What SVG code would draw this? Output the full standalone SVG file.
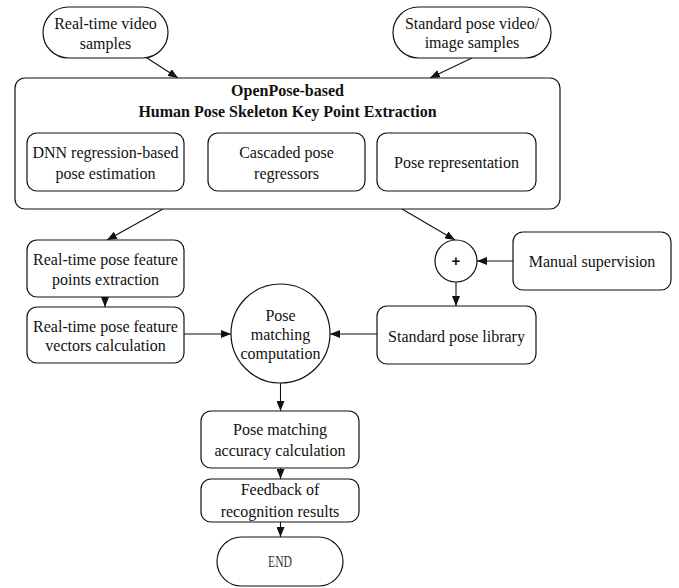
<svg xmlns="http://www.w3.org/2000/svg" width="679" height="588" viewBox="0 0 679 588">
<style>
.box{fill:#fff;stroke:#111;stroke-width:1.2}
.t{font-family:"Liberation Serif","Times New Roman",serif;font-size:16px;fill:#111;text-anchor:middle}
.b{font-weight:bold}
.c{stroke:#111;stroke-width:1.1;fill:none;marker-end:url(#ah)}
</style>
<defs>
<marker id="ah" viewBox="0 0 10 8" refX="10" refY="4" markerWidth="10" markerHeight="8" markerUnits="userSpaceOnUse" orient="auto">
<path d="M0,0 L10,4 L0,8 Z" fill="#111"/>
</marker>
</defs>
<rect width="679" height="588" fill="#fff"/>
<g id="connectors">
<line class="c" x1="147" y1="58" x2="178" y2="78"/>
<line class="c" x1="472" y1="58" x2="430" y2="78"/>
<line class="c" x1="163" y1="209" x2="107" y2="240"/>
<line class="c" x1="402" y1="209" x2="455" y2="240"/>
<line class="c" x1="513" y1="261" x2="477" y2="261"/>
<line class="c" x1="456" y1="282" x2="456" y2="306"/>
<line class="c" x1="105" y1="297" x2="105" y2="307"/>
<line class="c" x1="184" y1="334" x2="231" y2="334"/>
<line class="c" x1="377" y1="334" x2="330" y2="334"/>
<line class="c" x1="280.5" y1="383" x2="280.5" y2="411"/>
<line class="c" x1="280.5" y1="468" x2="280.5" y2="479"/>
<line class="c" x1="280.5" y1="522" x2="280.5" y2="537"/>
</g>
<g id="realtime-video">
<rect class="box" x="43" y="7" width="125" height="51" rx="25.5"/>
<text class="t" x="105.5" y="28.5">Real-time video</text>
<text class="t" x="105.5" y="48.5">samples</text>
</g>
<g id="standard-video">
<rect class="box" x="393" y="7" width="158" height="51" rx="25.5"/>
<text class="t" x="472" y="28.5">Standard pose video/</text>
<text class="t" x="472" y="47.5">image samples</text>
</g>
<g id="openpose">
<rect class="box" x="15" y="78" width="545" height="131" rx="10"/>
<text class="t b" x="287.5" y="96">OpenPose-based</text>
<text class="t b" x="287.5" y="117">Human Pose Skeleton Key Point Extraction</text>
</g>
<g id="dnn">
<rect class="box" x="27" y="133" width="157" height="58" rx="10"/>
<text class="t" x="105.5" y="157.5">DNN regression-based</text>
<text class="t" x="105.5" y="178.5">pose estimation</text>
</g>
<g id="cascaded">
<rect class="box" x="208" y="133" width="157" height="58" rx="10"/>
<text class="t" x="286.5" y="157.5">Cascaded pose</text>
<text class="t" x="286.5" y="178.5">regressors</text>
</g>
<g id="representation">
<rect class="box" x="377" y="133" width="159" height="58" rx="10"/>
<text class="t" x="456.5" y="168">Pose representation</text>
</g>
<g id="feature-points">
<rect class="box" x="27" y="240" width="157" height="57" rx="10"/>
<text class="t" x="105.5" y="264.5">Real-time pose feature</text>
<text class="t" x="105.5" y="284.5">points extraction</text>
</g>
<g id="feature-vectors">
<rect class="box" x="27" y="307" width="157" height="56" rx="10"/>
<text class="t" x="105.5" y="331.5">Real-time pose feature</text>
<text class="t" x="105.5" y="350.5">vectors calculation</text>
</g>
<g id="plus">
<circle class="box" cx="456" cy="261" r="21"/>
<text x="456" y="266" text-anchor="middle" font-family="Liberation Sans,Arial,sans-serif" font-weight="bold" font-size="15" fill="#111">+</text>
</g>
<g id="manual">
<rect class="box" x="513" y="232" width="158" height="58" rx="10"/>
<text class="t" x="592" y="267">Manual supervision</text>
</g>
<g id="library">
<rect class="box" x="377" y="306" width="159" height="58" rx="10"/>
<text class="t" x="456.5" y="341.5">Standard pose library</text>
</g>
<g id="matching">
<circle class="box" cx="280.5" cy="333.5" r="49.5"/>
<text class="t" x="280.5" y="321">Pose</text>
<text class="t" x="280.5" y="340">matching</text>
<text class="t" x="280.5" y="359">computation</text>
</g>
<g id="accuracy">
<rect class="box" x="201" y="411" width="158" height="57" rx="10"/>
<text class="t" x="280" y="434.5">Pose matching</text>
<text class="t" x="280" y="455.5">accuracy calculation</text>
</g>
<g id="feedback">
<rect class="box" x="201" y="479" width="158" height="43" rx="10"/>
<text class="t" x="280" y="494.5">Feedback of</text>
<text class="t" x="280" y="516.5">recognition results</text>
</g>
<g id="end">
<rect class="box" x="217" y="537" width="126" height="49" rx="24.5"/>
<text class="t" x="280" y="567" fill="#333" textLength="24" lengthAdjust="spacingAndGlyphs" style="fill:#333">END</text>
</g>
</svg>
